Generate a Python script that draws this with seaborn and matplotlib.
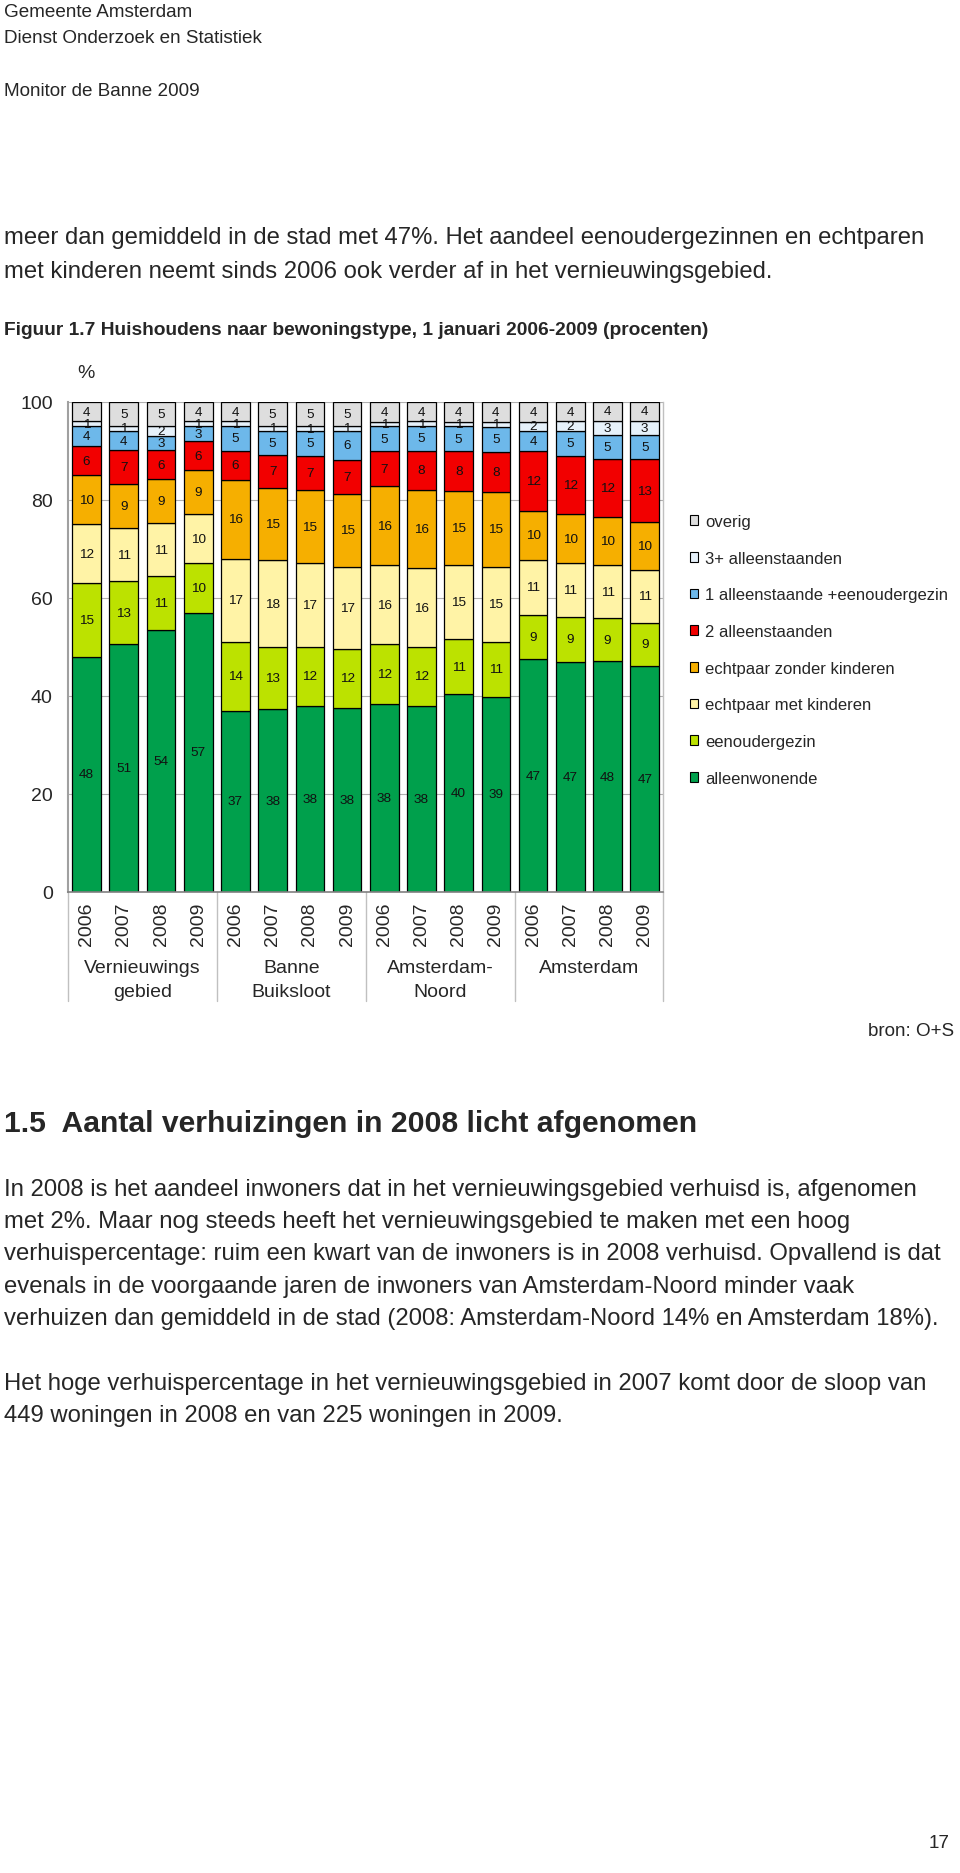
import numpy as np
import pandas as pd
import matplotlib
matplotlib.use('Agg')
import matplotlib.pyplot as plt
import matplotlib.transforms as mtransforms
from matplotlib.patches import Patch
import seaborn as sns

# Gebieden en jaren (categorie-as)
gebieden = ['Vernieuwings\ngebied', 'Banne\nBuiksloot', 'Amsterdam-\nNoord', 'Amsterdam']
jaren = ['2006', '2007', '2008', '2009']

# Huishoudtypen, van onder naar boven gestapeld
typen = ['alleenwonende', 'eenoudergezin', 'echtpaar met kinderen',
         'echtpaar zonder kinderen', '2 alleenstaanden',
         '1 alleenstaande +eenoudergezin', '3+ alleenstaanden', 'overig']

# Waarden per staaf (4 gebieden x 4 jaren)
alleenwonende = [48, 51, 54, 57, 37, 38, 38, 38, 38, 38, 40, 39, 47, 47, 48, 47]
eenoudergezin = [15, 13, 11, 10, 14, 13, 12, 12, 12, 12, 11, 11, 9, 9, 9, 9]
echtpaar_met = [12, 11, 11, 10, 17, 18, 17, 17, 16, 16, 15, 15, 11, 11, 11, 11]
echtpaar_zonder = [10, 9, 9, 9, 16, 15, 15, 15, 16, 16, 15, 15, 10, 10, 10, 10]
twee_alleen = [6, 7, 6, 6, 6, 7, 7, 7, 7, 8, 8, 8, 12, 12, 12, 13]
een_alleen_eenouder = [4, 4, 3, 3, 5, 5, 5, 6, 5, 5, 5, 5, 4, 5, 5, 5]
drie_alleen = [1, 1, 2, 1, 1, 1, 1, 1, 1, 1, 1, 1, 2, 2, 3, 3]
overig = [4, 5, 5, 4, 4, 5, 5, 5, 4, 4, 4, 4, 4, 4, 4, 4]

kleuren = ['#00A04C', '#BCE200', '#FFF3A6', '#F6AF00', '#F20000',
           '#6DB8EA', '#E6F1FA', '#DEDEDE']

reeksen = [alleenwonende, eenoudergezin, echtpaar_met, echtpaar_zonder,
           twee_alleen, een_alleen_eenouder, drie_alleen, overig]

# dataframe opbouwen
sleutels = [g.replace('\n', ' ') + ' ' + j for g in gebieden for j in jaren]
Base = pd.DataFrame({'sleutel': sleutels})
for t, r in zip(typen, reeksen):
    Base[t] = r
totaal = Base[typen].sum(axis=1)

sns.set_theme(style='white')
plt.rcParams['font.family'] = ['Liberation Sans', 'DejaVu Sans']

W, H = 960, 1874
fig = plt.figure(figsize=(W / 100, H / 100), dpi=100)

def fy(y):
    return 1 - y / H

# Grafiek
ax = fig.add_axes([68 / W, fy(893), 595.4 / W, 490.3 / H])
bodem = np.zeros(len(Base))
for t, c in zip(typen, kleuren):
    aandeel = (Base[t] / totaal * 100).values
    sns.barplot(x=Base['sleutel'], y=aandeel, bottom=bodem, color=c,
                saturation=1, width=0.77, edgecolor='black', linewidth=0.9,
                errorbar=None, ax=ax)
    ax.bar_label(ax.containers[-1], labels=[str(v) for v in Base[t]],
                 label_type='center', fontsize=9.7, color='#111111')
    bodem = bodem + aandeel

ax.set_xlim(-0.5, 15.5)
ax.set_ylim(0, 100)
ax.set_yticks([0, 20, 40, 60, 80, 100])
ax.set_xticks(range(16))
ax.set_xticklabels(jaren * 4, rotation=90, fontsize=14)
ax.tick_params(axis='y', labelsize=14, length=0, pad=11)
ax.tick_params(axis='x', length=0, pad=7)
ax.set_xlabel('')
ax.set_ylabel('')
ax.yaxis.grid(True, color='#b0b0b0', lw=0.8)
ax.set_axisbelow(True)
ax.spines['top'].set_visible(False)
ax.spines['left'].set_color('#a0a0a0')
ax.spines['left'].set_linewidth(1.5)
ax.spines['bottom'].set_color('#808080')
ax.spines['bottom'].set_linewidth(1.2)
ax.spines['right'].set_color('#c0c0c0')
ax.spines['right'].set_linewidth(1.0)

# scheidingslijnen en groepsnamen onder de as
trans = mtransforms.blended_transform_factory(ax.transData, ax.transAxes)
for xs in [-0.5, 3.5, 7.5, 11.5, 15.5]:
    ax.plot([xs, xs], [0, -0.222], transform=trans, color='#c0c0c0',
            lw=1.0, clip_on=False)
trans_f = mtransforms.blended_transform_factory(ax.transData, fig.transFigure)
for i, g in enumerate(gebieden):
    for k, regel in enumerate(g.split('\n')):
        ax.text(4 * i + 1.5, fy(973.3 + 23.4 * k), regel, transform=trans_f,
                ha='center', va='baseline', fontsize=14)

fig.text(86 / W, fy(374), '%', ha='center', va='center', fontsize=14)

# legenda
handles = [Patch(facecolor=c, edgecolor='black', linewidth=0.8)
           for c in kleuren][::-1]
fig.legend(handles, typen[::-1], loc='upper left',
           bbox_to_anchor=(690 / W, fy(515)), frameon=False, fontsize=12,
           handlelength=0.5, handleheight=0.5, handletextpad=0.4,
           labelspacing=1.3, borderpad=0, borderaxespad=0)

# Paginatekst
fig.text(4 / W, fy(16.7), 'Gemeente Amsterdam', fontsize=13.6, va='baseline')
fig.text(4 / W, fy(42.7), 'Dienst Onderzoek en Statistiek', fontsize=13.6, va='baseline')
fig.text(4 / W, fy(96), 'Monitor de Banne 2009', fontsize=13.6, va='baseline')

fig.text(4 / W, fy(244.3), 'meer dan gemiddeld in de stad met 47%. Het aandeel eenoudergezinnen en echtparen',
         fontsize=17.2, va='baseline')
fig.text(4 / W, fy(277.7), 'met kinderen neemt sinds 2006 ook verder af in het vernieuwingsgebied.',
         fontsize=17.2, va='baseline')
fig.text(4 / W, fy(335), 'Figuur 1.7 Huishoudens naar bewoningstype, 1 januari 2006-2009 (procenten)',
         fontsize=13.8, fontweight='bold', va='baseline')

fig.text(954 / W, fy(1036), 'bron: O+S', fontsize=13.6, ha='right', va='baseline')
fig.text(4 / W, fy(1132), '1.5  Aantal verhuizingen in 2008 licht afgenomen',
         fontsize=21.7, fontweight='bold', va='baseline')

alinea = [
    'In 2008 is het aandeel inwoners dat in het vernieuwingsgebied verhuisd is, afgenomen',
    'met 2%. Maar nog steeds heeft het vernieuwingsgebied te maken met een hoog',
    'verhuispercentage: ruim een kwart van de inwoners is in 2008 verhuisd. Opvallend is dat',
    'evenals in de voorgaande jaren de inwoners van Amsterdam-Noord minder vaak',
    'verhuizen dan gemiddeld in de stad (2008: Amsterdam-Noord 14% en Amsterdam 18%).',
]
for k, regel in enumerate(alinea):
    fig.text(4 / W, fy(1195.7 + 32.35 * k), regel, fontsize=17.2, va='baseline')
fig.text(4 / W, fy(1390), 'Het hoge verhuispercentage in het vernieuwingsgebied in 2007 komt door de sloop van',
         fontsize=17.2, va='baseline')
fig.text(4 / W, fy(1422.3), '449 woningen in 2008 en van 225 woningen in 2009.',
         fontsize=17.2, va='baseline')

fig.text(950 / W, fy(1848), '17', fontsize=13.6, ha='right', va='baseline')

fig.savefig('out.png', dpi=100)
